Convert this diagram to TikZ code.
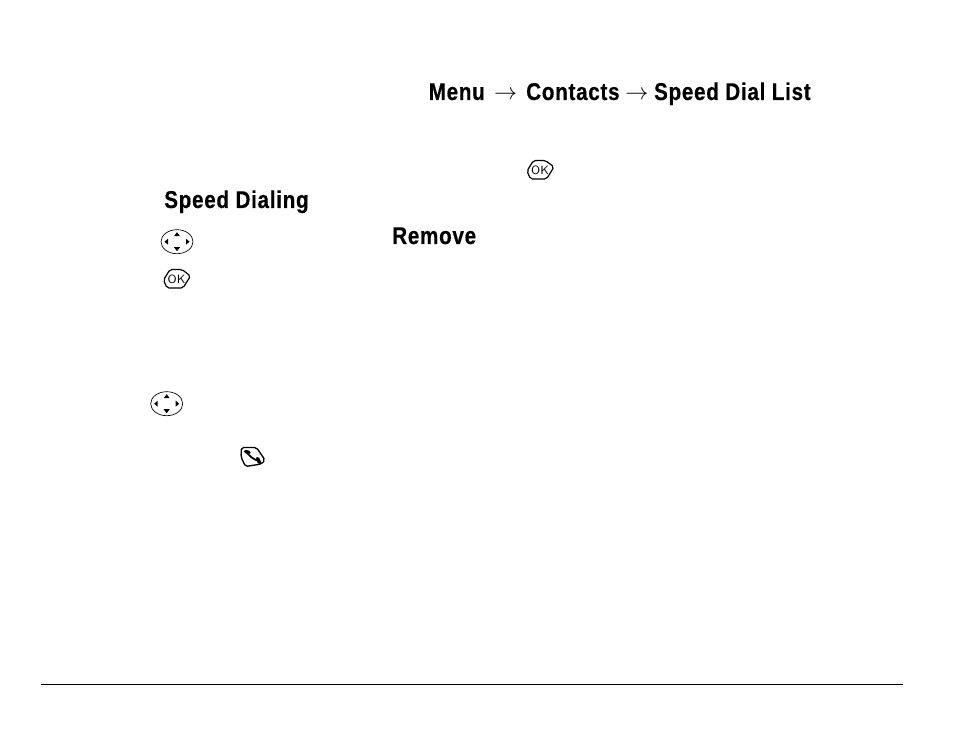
\documentclass[tikz,border=0pt]{standalone}
\usepackage{amsmath}
\usepackage{fontspec}
\setmainfont{Liberation Sans}
\newfontfamily\headfont[FakeStretch=0.85,LetterSpace=3,FakeBold=0.4]{Liberation Sans Bold}
\newcommand{\menuarrow}[1]{\hspace{#1}$\rightarrow$\hspace{#1}}
\usepackage{tikz}

\begin{document}
\begin{tikzpicture}[x=0.75pt,y=-0.75pt,
        t/.style={anchor=base west, inner sep=0pt,
                        font=\headfont\fontsize{18.2}{20}\selectfont},
        navkey/.pic={
            \draw [line width=0.5pt] (0,0) ellipse (16 and 12);
            \fill (0,-9.5) -- (3,-5.5) -- (-3,-5.5) -- cycle;
            \fill (0,9.5) -- (3,5.5) -- (-3,5.5) -- cycle;
            \fill (-12.5,0) -- (-9,-3) -- (-9,3) -- cycle;
            \fill (12.5,0) -- (9,-3) -- (9,3) -- cycle;
        },
        okkey/.pic={
            \draw [line width=0.9pt, rounded corners=1.5pt]
                  (-7,-9.5) -- (5,-9.5) -- (13.5,-3) -- (6,9) -- (-10,9) -- (-13.5,1) -- cycle;
            \node [inner sep=0pt, font=\sffamily\fontsize{9}{9}\selectfont] at (-0.5,0) {OK};
        },
        sendkey/.pic={
            \draw [line width=1pt, rounded corners=1.5pt]
                  (-11,-9.5) -- (4,-9.5) -- (12.5,3) -- (9,7) -- (-7,9.5) -- (-11.5,0) -- cycle;
            \draw [line width=1.3pt]
                  (-6,-5) .. controls (-3,-1) and (1,3) .. (7,4);
            \draw [line width=2.6pt, line cap=round] (-7,-5.5) -- (-3.5,-4.5);
            \draw [line width=2.6pt, line cap=round] (5,1.5) -- (7,5.5);
        }]
            \useasboundingbox (0,0) rectangle (954,738);
            \node [t] (menu) at (428.5,100) {Menu\menuarrow{6.9pt}Contacts\menuarrow{4.3pt}Speed Dial List};
            \node [t] (dialing) at (164,208) {Speed Dialing};
            \node [t] (remove) at (392,244) {Remove};
            \pic at (540.5,170) {okkey};
            \pic at (177,241.7) {navkey};
            \pic at (177,279) {okkey};
            \pic at (166.7,403.7) {navkey};
            \pic at (252.5,457) {sendkey};
            \coordinate (ruleL) at (41,684.5);
            \coordinate (ruleR) at (903,684.5);
            \draw [line width=0.6pt] (ruleL) -- (ruleR);
        \end{tikzpicture}
\end{document}
